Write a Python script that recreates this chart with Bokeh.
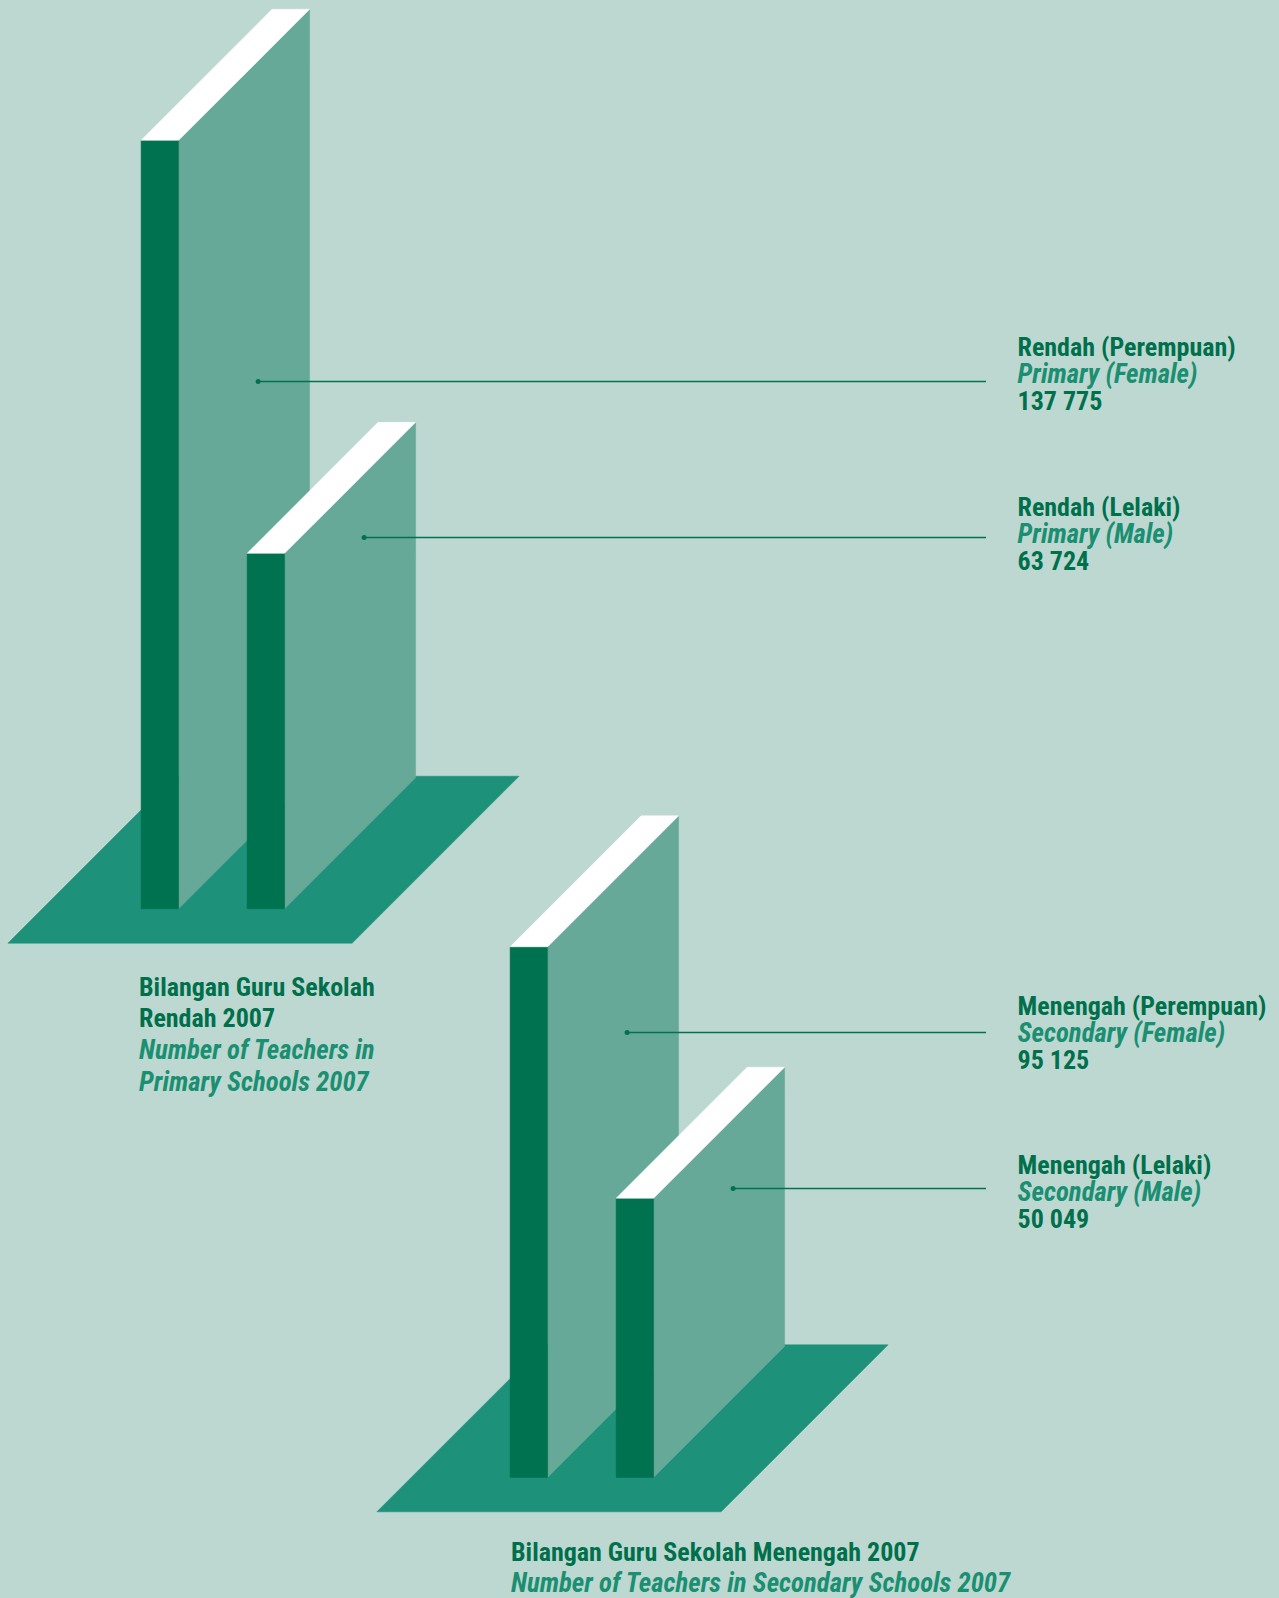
import numpy as np
from bokeh.plotting import figure
from bokeh.models import Range1d
from bokeh.core.properties import value
from bokeh.embed import file_html
from bokeh.resources import INLINE

# ---------------- data ----------------
categories_ms = ["Rendah (Perempuan)", "Rendah (Lelaki)", "Menengah (Perempuan)", "Menengah (Lelaki)"]
categories_en = ["Primary (Female)", "Primary (Male)", "Secondary (Female)", "Secondary (Male)"]
teachers = [137775, 63724, 95125, 50049]
teacher_labels = ["137 775", "63 724", "95 125", "50 049"]
bar_group = [0, 0, 1, 1]
bar_slot = [0, 1, 0, 1]
group_titles_ms = [["Bilangan Guru Sekolah", "Rendah 2007"], ["Bilangan Guru Sekolah Menengah 2007"]]
group_titles_en = [["Number of Teachers in", "Primary Schools 2007"], ["Number of Teachers in Secondary Schools 2007"]]

# ---------------- layout / style ----------------
W, H = 1279, 1598
BG = "#BDD8D1"
FRONT = "#00724F"
SIDE = "#67A998"
TOP = "#FFFFFF"
FLOOR = "#1D917A"
TXT = "#00704C"
TXT_IT = "#1B8F71"
FONT = value("'Roboto Condensed', 'Liberation Sans Narrow', 'DejaVu Sans Condensed', sans-serif")
FS_B = value("26px")
FS_I = value("26.8px")
TEXT_DY = -10.0

PX_PER_TEACHER = 0.005578
DEPTH = 131.0
BAR_W = 37.5
SLOT_DX = 106.0
GROUP_ORIGIN = [(140.6, 908.3), (509.6, 1476.9)]   # front-left x, base y of first bar
FLOOR_L, FLOOR_R, FLOOR_DY, FLOOR_D = -133.2, 211.0, 34.4, 167.0

LEADER_Y = [381.0, 537.0, 1032.0, 1188.0]
LEADER_DX = 117.0
LEADER_END = 985.5
LABEL_X = 1017.0
LABEL_BASE = [356.5, 516.0, 1015.0, 1174.5]
LABEL_STEP = 27.2

TITLE_POS = [(138.5, 996.0, 31.8), (510.5, 1561.0, 31.5)]

p = figure(width=W, height=H, x_range=Range1d(0, W), y_range=Range1d(H, 0),
           output_backend="svg", toolbar_location=None,
           x_axis_location=None, y_axis_location=None, min_border=0)
p.background_fill_color = BG
p.border_fill_color = BG
p.outline_line_color = None
p.grid.visible = False

# floors
fx, fy = [], []
for ox, base in GROUP_ORIGIN:
    yb = base + FLOOR_DY
    fx.append([ox + FLOOR_L, ox + FLOOR_R, ox + FLOOR_R + FLOOR_D, ox + FLOOR_L + FLOOR_D])
    fy.append([yb, yb, yb - FLOOR_D, yb - FLOOR_D])
p.patches(fx, fy, fill_color=FLOOR, line_color=FLOOR, line_width=0.5)

# bars
for i, v in enumerate(teachers):
    ox, base = GROUP_ORIGIN[bar_group[i]]
    x0 = ox + bar_slot[i] * SLOT_DX
    x1 = x0 + BAR_W
    h = v * PX_PER_TEACHER
    yt = base - h
    D = DEPTH
    p.patch([x1, x1, x1 + D, x1 + D], [base, yt, yt - D, base - D],
            fill_color=SIDE, line_color=SIDE, line_width=0.5)
    p.patch([x0, x1, x1, x0], [yt, yt, base, base],
            fill_color=FRONT, line_color=FRONT, line_width=0.5)
    p.patch([x0, x1, x1 + D, x0 + D], [yt, yt, yt - D, yt - D],
            fill_color=TOP, line_color=TOP, line_width=0.5)

# leaders + labels
for i in range(len(teachers)):
    ox, base = GROUP_ORIGIN[bar_group[i]]
    xs = ox + bar_slot[i] * SLOT_DX + LEADER_DX
    ly = LEADER_Y[i]
    p.line([xs, LEADER_END], [ly, ly], line_color=FRONT, line_width=1.3)
    p.scatter([xs], [ly], size=5, fill_color=FRONT, line_color=None)
    b = LABEL_BASE[i] + TEXT_DY
    p.text([LABEL_X], [b], text=[categories_ms[i]], text_font=FONT, text_font_size=FS_B,
           text_font_style="bold", text_color=TXT, text_baseline="alphabetic")
    p.text([LABEL_X], [b + LABEL_STEP], text=[categories_en[i]], text_font=FONT, text_font_size=FS_I,
           text_font_style="bold italic", text_color=TXT_IT, text_baseline="alphabetic")
    p.text([LABEL_X], [b + 2 * LABEL_STEP], text=[teacher_labels[i]], text_font=FONT, text_font_size=FS_B,
           text_font_style="bold", text_color=TXT, text_baseline="alphabetic")

# group titles
for g, (tx, ty, step) in enumerate(TITLE_POS):
    lines = group_titles_ms[g] + group_titles_en[g]
    styles = ["bold"] * len(group_titles_ms[g]) + ["bold italic"] * len(group_titles_en[g])
    colors = [TXT] * len(group_titles_ms[g]) + [TXT_IT] * len(group_titles_en[g])
    sizes = [FS_B] * len(group_titles_ms[g]) + [FS_I] * len(group_titles_en[g])
    for k, t in enumerate(lines):
        p.text([tx], [ty + TEXT_DY + k * step], text=[t], text_font=FONT, text_font_size=sizes[k],
               text_font_style=styles[k], text_color=colors[k], text_baseline="alphabetic")

html = file_html(p, INLINE)
html = html.replace("<head>", "<head><style>html,body{background-color:%s;}</style>" % BG, 1)
open("out.html", "w").write(html)
